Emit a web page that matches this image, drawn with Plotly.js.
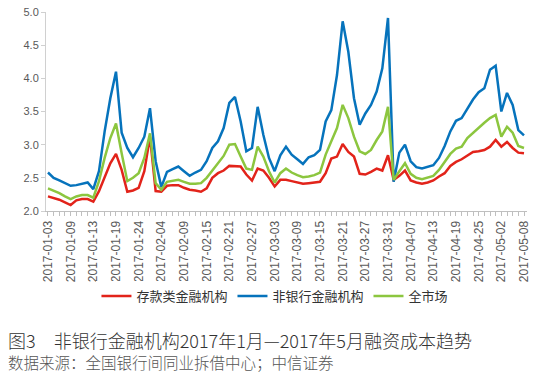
<!DOCTYPE html>
<html>
<head>
<meta charset="utf-8">
<script src="https://cdn.plot.ly/plotly-3.0.1.min.js"></script>
<style>html,body{margin:0;padding:0;background:#fff;}#chart{width:534px;height:381px;}</style>
</head>
<body>
<div id="chart"></div>
<script>
// Trading days (category axis)
const dates = [
 "2017-01-03","2017-01-04","2017-01-05","2017-01-06","2017-01-09","2017-01-10","2017-01-11","2017-01-12","2017-01-13","2017-01-16",
 "2017-01-17","2017-01-18","2017-01-19","2017-01-20","2017-01-22","2017-01-23","2017-01-24","2017-01-25","2017-01-26","2017-02-03",
 "2017-02-04","2017-02-06","2017-02-07","2017-02-08","2017-02-09","2017-02-10","2017-02-13","2017-02-14","2017-02-15","2017-02-16",
 "2017-02-17","2017-02-20","2017-02-21","2017-02-22","2017-02-23","2017-02-24","2017-02-27","2017-02-28","2017-03-01","2017-03-02",
 "2017-03-03","2017-03-06","2017-03-07","2017-03-08","2017-03-09","2017-03-10","2017-03-13","2017-03-14","2017-03-15","2017-03-16",
 "2017-03-17","2017-03-20","2017-03-21","2017-03-22","2017-03-23","2017-03-24","2017-03-27","2017-03-28","2017-03-29","2017-03-30",
 "2017-03-31","2017-04-01","2017-04-05","2017-04-06","2017-04-07","2017-04-10","2017-04-11","2017-04-12","2017-04-13","2017-04-14",
 "2017-04-17","2017-04-18","2017-04-19","2017-04-20","2017-04-21","2017-04-24","2017-04-25","2017-04-26","2017-04-27","2017-04-28",
 "2017-05-02","2017-05-03","2017-05-04","2017-05-05","2017-05-08"
];
// Labeled ticks
const tickLabels = ["2017-01-03","2017-01-09","2017-01-13","2017-01-19","2017-01-24","2017-02-04","2017-02-09","2017-02-15","2017-02-21","2017-02-27",
 "2017-03-03","2017-03-09","2017-03-15","2017-03-21","2017-03-27","2017-03-31","2017-04-07","2017-04-13","2017-04-19","2017-04-25","2017-05-02","2017-05-08"];

const seriesNames = ["存款类金融机构","非银行金融机构","全市场"];

const depository = [
 2.22,2.20,2.17,2.13,2.09,2.16,2.18,2.18,2.14,2.30,
 2.52,2.72,2.86,2.62,2.29,2.31,2.35,2.60,3.12,2.30,
 2.29,2.38,2.39,2.39,2.35,2.32,2.31,2.29,2.34,2.50,
 2.57,2.61,2.68,2.67,2.67,2.55,2.46,2.64,2.61,2.50,
 2.37,2.47,2.47,2.45,2.43,2.41,2.42,2.43,2.44,2.57,
 2.79,2.82,3.01,2.89,2.82,2.56,2.55,2.59,2.64,2.61,
 2.84,2.47,2.53,2.61,2.46,2.43,2.41,2.43,2.46,2.52,
 2.57,2.68,2.74,2.78,2.84,2.89,2.90,2.92,2.97,3.07,
 2.97,3.04,2.95,2.88,2.87
];
const nonBank = [
 2.58,2.50,2.46,2.42,2.38,2.39,2.41,2.43,2.33,2.60,
 3.20,3.70,4.10,3.18,2.95,2.81,2.95,3.12,3.55,2.75,
 2.36,2.59,2.63,2.67,2.60,2.53,2.58,2.62,2.75,2.95,
 3.05,3.25,3.63,3.72,3.35,2.90,2.95,3.57,3.15,2.80,
 2.60,2.84,2.97,2.85,2.78,2.71,2.81,2.84,2.92,3.35,
 3.52,4.05,4.86,4.40,3.70,3.30,3.47,3.60,3.80,4.15,
 4.91,2.44,2.88,3.00,2.75,2.66,2.64,2.66,2.69,2.80,
 2.98,3.20,3.36,3.40,3.55,3.68,3.79,3.85,4.13,4.19,
 3.50,3.78,3.60,3.22,3.14
];
const wholeMarket = [
 2.34,2.31,2.27,2.22,2.18,2.22,2.24,2.24,2.20,2.45,
 2.80,3.10,3.32,2.87,2.45,2.50,2.57,2.80,3.17,2.42,
 2.32,2.44,2.46,2.47,2.44,2.41,2.41,2.42,2.50,2.61,
 2.72,2.83,3.00,3.01,2.82,2.64,2.62,2.97,2.82,2.60,
 2.43,2.57,2.64,2.58,2.54,2.51,2.52,2.54,2.58,2.85,
 3.05,3.25,3.60,3.40,3.12,2.90,2.86,2.92,3.07,3.20,
 3.57,2.47,2.60,2.72,2.56,2.50,2.48,2.50,2.53,2.62,
 2.74,2.86,2.94,2.97,3.10,3.18,3.26,3.33,3.40,3.45,
 3.12,3.27,3.18,2.98,2.95
];

const colors = ["#E2231A","#0673BC","#8CC63F"];
const cjk = '"Noto Sans CJK SC", "Noto Sans", sans-serif';
const num = '"Liberation Sans", Arial, sans-serif';

const traces = [depository, nonBank, wholeMarket].map((vals, k) => ({
  type: 'scatter', mode: 'lines', x: dates, y: vals, name: seriesNames[k],
  line: {color: colors[k], width: 2.5}
}));

const ticktext = dates.map(d => tickLabels.includes(d) ? d : '');

const layout = {
  width: 534, height: 381,
  margin: {l: 46, r: 7, t: 12, b: 170},
  paper_bgcolor: '#fff', plot_bgcolor: '#fff',
  showlegend: true,
  legend: {orientation: 'h', x: 0.476, xanchor: 'center', y: -0.427, yanchor: 'middle',
           font: {family: cjk, size: 13, color: '#333'}, itemwidth: 30, tracegroupgap: 0},
  xaxis: {
    type: 'category', range: [-0.35, 84.53],
    tickmode: 'array', tickvals: dates, ticktext: ticktext,
    tickangle: -90, ticks: 'outside', ticklen: 4, tickcolor: '#bfbfbf',
    tickfont: {family: num, size: 12, color: '#595959'},
    showline: true, linecolor: '#bfbfbf', linewidth: 1,
    showgrid: false, zeroline: false, fixedrange: true
  },
  yaxis: {
    range: [2, 5], dtick: 0.5, tick0: 2, tickformat: '.1f',
    ticks: 'outside', ticklen: 4, tickcolor: '#d0d0d0',
    tickfont: {family: num, size: 11, color: '#595959'},
    showline: true, linecolor: '#d0d0d0', linewidth: 1,
    showgrid: false, zeroline: false, fixedrange: true
  },
  annotations: [
    {xref: 'paper', yref: 'paper', x: -0.083, y: -0.648, xanchor: 'left', yanchor: 'middle',
     text: '图3　非银行金融机构2017年1月—2017年5月融资成本趋势', showarrow: false,
     font: {family: cjk, size: 18, color: '#333', weight: 300}},
    {xref: 'paper', yref: 'paper', x: -0.083, y: -0.76, xanchor: 'left', yanchor: 'middle',
     text: '数据来源：全国银行间同业拆借中心；中信证券', showarrow: false,
     font: {family: cjk, size: 15.5, color: '#555', weight: 300}}
  ]
};

Plotly.newPlot('chart', traces, layout, {staticPlot: true, displayModeBar: false});
</script>
</body>
</html>
